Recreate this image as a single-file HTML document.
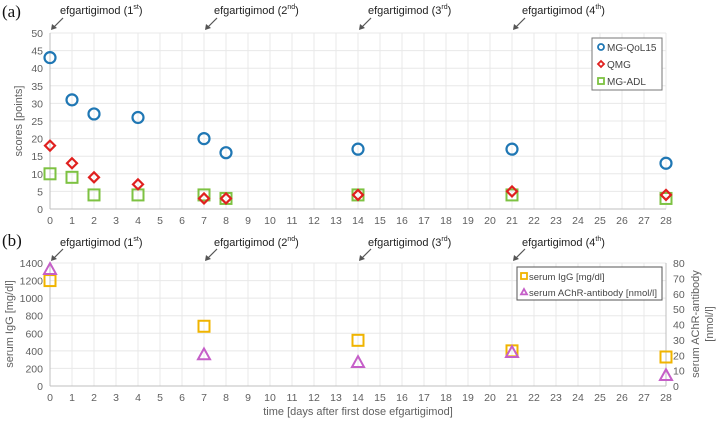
<!DOCTYPE html>
<html><head><meta charset="utf-8"><style>
body{margin:0;background:#fff}
svg{display:block;font-family:"Liberation Sans",sans-serif}
</style></head><body>
<svg id="c" width="718" height="422" viewBox="0 0 718 422"></svg>
<script>
const days = [0,1,2,4,7,8,14,21,28];
const qol = [43,31,27,26,20,16,17,17,13];
const qmg = [18,13,9,7,3,3,4,5,4];
const adl = [10,9,4,4,4,3,4,4,3];
const bDays = [0,7,14,21,28];
const igg = [1200,680,520,400,330];
const achr = [76,20.5,15.5,22,7];
const doseDays = [0,7,14,21];
const doseLabels = ["1","2","3","4"];
const doseSup = ["st","nd","rd","th"];
const aTicks = [0,5,10,15,20,25,30,35,40,45,50];
const bTicks = [0,200,400,600,800,1000,1200,1400];
const rTicks = [0,10,20,30,40,50,60,70,80];

const NS="http://www.w3.org/2000/svg";
const svg=document.getElementById('c');
function el(t,a,p){const e=document.createElementNS(NS,t);for(const k in a)e.setAttribute(k,a[k]);(p||svg).appendChild(e);return e;}
const X0=50,X1=666;
const x=d=>X0+(X1-X0)*d/28;
const ya=v=>209-(209-33)*v/50;
const yb=v=>386-(386-263)*v/1400;
const yr=v=>386-(386-263)*v/80;
const grid="#e8e8e8",tc="#606060";

function gridX(top,bot){for(let d=0;d<=28;d++){const l=el('line',{x1:x(d),x2:x(d),y1:top,y2:bot,stroke:grid,'stroke-width':1});
}}
function xTicks(y){for(let d=0;d<=28;d++){const t=el('text',{x:x(d),y:y,'text-anchor':'middle','font-size':10.5,fill:tc});t.textContent=d;
}}
function doses(ty,ay){doseDays.forEach((d,i)=>{
 const t=el('text',{x:x(d)+10,y:ty,'font-size':11,fill:'#222'});
 
 t.innerHTML='efgartigimod ('+doseLabels[i]+'<tspan font-size="7" dy="-5">'+doseSup[i]+'</tspan><tspan dy="5">)</tspan>';
 const a=el('line',{x1:x(d)+13,y1:ay-12,x2:x(d)+3,y2:ay-2,stroke:'#555','stroke-width':1.2});
 
 const h=el('path',{d:`M${x(d)+1},${ay} l1,-6 l5,4 z`,fill:'#555'});
 
});}

// panel a
gridX(33,209);
aTicks.forEach(v=>{const l=el('line',{x1:X0,x2:X1,y1:ya(v),y2:ya(v),stroke:v?grid:'#bfbfbf'});
const t=el('text',{x:43,y:ya(v)+4,'text-anchor':'end','font-size':10.5,fill:tc});t.textContent=v;});
el('line',{x1:X0,x2:X0,y1:33,y2:209,stroke:'#bfbfbf'});
xTicks(224);
let t=el('text',{x:22,y:121,'text-anchor':'middle','font-size':11,fill:tc,transform:'rotate(-90 22 121)'});t.textContent='scores [points]';
t=el('text',{x:2,y:17,'font-size':17,'font-family':'Liberation Serif',fill:'#111'});t.textContent='(a)';
doses(14,30);
function circ(cx,cy,r,c){return el('circle',{cx,cy,r,fill:'none',stroke:c,'stroke-width':2.2});}
function dia(cx,cy,r,c){return el('path',{d:`M${cx},${cy-r}L${cx+r},${cy}L${cx},${cy+r}L${cx-r},${cy}Z`,fill:'none',stroke:c,'stroke-width':2.2});}
function sq(cx,cy,r,c){return el('rect',{x:cx-r,y:cy-r,width:2*r,height:2*r,fill:'none',stroke:c,'stroke-width':2});}
function tri(cx,cy,r,c){return el('path',{d:`M${cx},${cy-r}L${cx+r},${cy+r*0.8}L${cx-r},${cy+r*0.8}Z`,fill:'none',stroke:c,'stroke-width':2});}
days.forEach((d,i)=>{
 let m=sq(x(d),ya(adl[i]),5.5,'#7dc242');
 m=dia(x(d),ya(qmg[i]),5,'#e0201f');
 m=circ(x(d),ya(qol[i]),5.5,'#1f77b4');
});
let lg=el('rect',{x:592,y:38,width:70,height:52,fill:'#fff',stroke:'#777'});
[['MG-QoL15',circ,'#1f77b4'],['QMG',dia,'#e0201f'],['MG-ADL',sq,'#7dc242']].forEach((e,i)=>{
 const yy=47+i*17;const m=e[1](601,yy,3,e[2]);m.setAttribute('stroke-width',1.8);
 const tt=el('text',{x:607,y:yy+4,'font-size':10,fill:'#444'});tt.textContent=e[0];
 
});

// panel b
gridX(263,386);
bTicks.forEach(v=>{const l=el('line',{x1:X0,x2:X1,y1:yb(v),y2:yb(v),stroke:v?grid:'#bfbfbf'});
const t=el('text',{x:43,y:yb(v)+4,'text-anchor':'end','font-size':10.5,fill:tc});t.textContent=v;});
rTicks.forEach(v=>{const t=el('text',{x:673,y:yr(v)+4,'font-size':10.5,fill:tc});t.textContent=v;});
el('line',{x1:X0,x2:X0,y1:263,y2:386,stroke:'#bfbfbf'});
el('line',{x1:X1,x2:X1,y1:263,y2:386,stroke:'#bfbfbf'});
xTicks(401);
t=el('text',{x:13,y:324,'text-anchor':'middle','font-size':11,fill:tc,transform:'rotate(-90 13 324)'});t.textContent='serum IgG [mg/dl]';
t=el('text',{x:699,y:324,'text-anchor':'middle','font-size':11,fill:tc,transform:'rotate(-90 699 324)'});t.textContent='serum AChR-antibody';
t=el('text',{x:713,y:324,'text-anchor':'middle','font-size':11,fill:tc,transform:'rotate(-90 713 324)'});t.textContent='[nmol/l]';
t=el('text',{x:358,y:415,'text-anchor':'middle','font-size':11,fill:tc});t.textContent='time [days after first dose efgartigimod]';
t=el('text',{x:2,y:246,'font-size':17,'font-family':'Liberation Serif',fill:'#111'});t.textContent='(b)';
doses(246,261);
bDays.forEach((d,i)=>{
 let m=sq(x(d),yb(igg[i]),5.5,'#f0b400');
 m=tri(x(d),yr(achr[i]),6,'#c55fc8');
});
lg=el('rect',{x:517,y:267,width:145,height:33,fill:'#fff',stroke:'#555'});
[['serum IgG [mg/dl]',sq,'#f0b400'],['serum AChR-antibody [nmol/l]',tri,'#c55fc8']].forEach((e,i)=>{
 const yy=276+i*16;const m=e[1](524,yy,3,e[2]);m.setAttribute('stroke-width',1.8);
 const tt=el('text',{x:529,y:yy+4,'font-size':9.5,fill:'#444',textLength:e[0].length>20?128:0});tt.textContent=e[0];
 if(e[0].length<=20)tt.removeAttribute('textLength');
 
});
</script>
</body></html>
